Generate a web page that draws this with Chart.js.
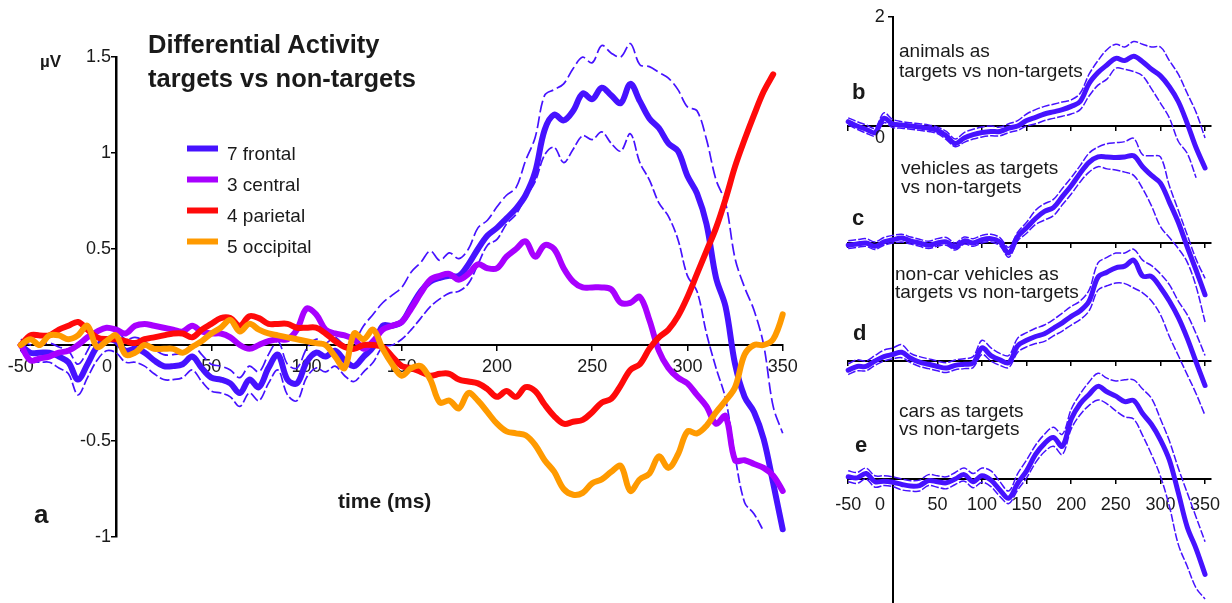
<!DOCTYPE html>
<html>
<head>
<meta charset="utf-8">
<script src="https://cdn.jsdelivr.net/npm/chart.js@4/dist/chart.umd.min.js"></script>
<style>
  html,body{margin:0;padding:0;background:#fff;}
  body{width:1232px;height:603px;overflow:hidden;position:relative;font-family:"Liberation Sans",Arial,sans-serif;}
  canvas{position:absolute;top:0;}
  .t{position:absolute;line-height:1;white-space:nowrap;color:#1a1a1a;}
  .b{font-weight:bold;}
</style>
</head>
<body>
<canvas id="main" width="820" height="603" style="left:0px"></canvas>
<canvas id="side" width="412" height="603" style="left:820px"></canvas>

<div class="t b" style="left:148px;top:31.5px;font-size:25.5px">Differential Activity</div>
<div class="t b" style="left:148px;top:65.5px;font-size:25.5px">targets vs non-targets</div>
<div class="t b" style="left:40px;top:53.3px;font-size:17px">µV</div>
<div class="t b" style="left:34px;top:500.5px;font-size:26px">a</div>
<div class="t b" style="left:338px;top:490px;font-size:21px">time (ms)</div>

<div class="t b" style="left:852px;top:81.4px;font-size:22px">b</div>
<div class="t" style="left:899px;top:40.9px;font-size:19px">animals as</div>
<div class="t" style="left:899px;top:60.9px;font-size:19px">targets vs non-targets</div>

<div class="t b" style="left:852px;top:207.4px;font-size:22px">c</div>
<div class="t" style="left:901px;top:158.2px;font-size:19px">vehicles as targets</div>
<div class="t" style="left:901px;top:177.2px;font-size:19px">vs non-targets</div>

<div class="t b" style="left:853px;top:322px;font-size:22px">d</div>
<div class="t" style="left:895px;top:263.9px;font-size:19px">non-car vehicles as</div>
<div class="t" style="left:895px;top:282.2px;font-size:19px">targets vs non-targets</div>

<div class="t b" style="left:855px;top:434.4px;font-size:22px">e</div>
<div class="t" style="left:899px;top:400.6px;font-size:19px">cars as targets</div>
<div class="t" style="left:899px;top:418.9px;font-size:19px">vs non-targets</div>

<script>
// ---------------- DATA ----------------
// Panel a: time axis (ms)
const TIME_A = [-50,-45,-40,-35,-30,-25,-20,-15,-10,-5,0,5,10,15,20,25,30,35,40,45,50,55,60,65,70,75,80,85,90,95,100,105,110,115,120,125,130,135,140,145,150,155,160,165,170,175,180,185,190,195,200,205,210,215,220,225,230,235,240,245,250,255,260,265,270,275,280,285,290,295,300,305,310,315,320,325,330,335,340,345,350,355];
const X_TICKS_A = [-50,0,50,100,150,200,250,300,350];
const Y_TICKS_A = [-1,-0.5,0,0.5,1,1.5];

const FRONTAL = [0.00,-0.04,-0.04,-0.04,-0.06,-0.09,-0.18,-0.10,-0.01,0.03,
  0.02,-0.03,-0.02,-0.04,-0.08,-0.11,-0.11,-0.10,-0.06,-0.12,
  -0.17,-0.18,-0.20,-0.25,-0.18,-0.22,-0.12,-0.05,-0.18,-0.20,
  -0.09,-0.04,-0.06,-0.03,-0.08,-0.11,-0.06,-0.01,0.10,0.10,
  0.12,0.20,0.28,0.33,0.35,0.36,0.36,0.42,0.50,0.57,
  0.61,0.66,0.71,0.78,0.90,1.12,1.20,1.17,1.22,1.31,
  1.28,1.34,1.30,1.26,1.36,1.27,1.18,1.13,1.05,1.01,
  0.88,0.79,0.63,0.35,0.20,-0.10,-0.27,-0.35,-0.49,-0.72,
  -0.96,null];
const FRONTAL_UP = [0.03,0.00,0.00,0.01,-0.01,-0.03,-0.10,-0.03,0.07,0.09,
  0.08,0.03,0.04,0.02,-0.02,-0.05,-0.05,-0.04,0.00,-0.05,
  -0.10,-0.11,-0.13,-0.17,-0.11,-0.14,-0.05,0.02,-0.10,-0.12,
  -0.02,0.03,0.01,0.04,0.00,0.02,0.10,0.16,0.22,0.26,
  0.30,0.38,0.43,0.49,0.44,0.48,0.45,0.50,0.61,0.65,
  0.72,0.78,0.82,0.96,1.08,1.30,1.33,1.36,1.44,1.50,
  1.47,1.56,1.52,1.50,1.57,1.46,1.45,1.42,1.39,1.33,
  1.24,1.22,1.07,0.86,0.74,0.45,0.30,0.18,0.00,-0.32,
  -0.46,null];
const FRONTAL_LO = [-0.03,-0.08,-0.09,-0.09,-0.12,-0.15,-0.26,-0.17,-0.08,-0.03,
  -0.04,-0.09,-0.09,-0.11,-0.15,-0.18,-0.18,-0.17,-0.13,-0.19,
  -0.24,-0.25,-0.27,-0.32,-0.25,-0.29,-0.20,-0.13,-0.26,-0.29,
  -0.17,-0.12,-0.14,-0.11,-0.16,-0.19,-0.14,-0.09,-0.01,0.00,
  0.03,0.08,0.14,0.20,0.24,0.27,0.28,0.32,0.42,0.52,
  0.55,0.63,0.68,0.77,0.85,0.99,1.03,0.95,1.02,1.09,
  1.07,1.11,1.05,1.01,1.10,0.95,0.86,0.74,0.67,0.55,
  0.36,0.28,0.06,-0.12,-0.28,-0.58,-0.82,-0.88,-0.97,null,
  null,null];
const CENTRAL = [0.00,-0.08,-0.07,-0.06,-0.04,-0.03,0.00,0.04,0.07,0.09,
  0.08,0.06,0.10,0.11,0.10,0.09,0.08,0.07,0.10,0.07,
  0.06,0.06,0.04,0.00,-0.02,0.00,0.02,0.03,0.03,0.08,
  0.19,0.16,0.08,0.06,0.05,0.03,-0.02,0.02,0.08,0.10,
  0.12,0.19,0.27,0.34,0.36,0.37,0.34,0.37,0.42,0.40,
  0.40,0.46,0.50,0.54,0.46,0.52,0.50,0.40,0.33,0.30,
  0.30,0.30,0.29,0.22,0.22,0.25,0.13,-0.03,-0.12,-0.17,
  -0.20,-0.26,-0.32,-0.41,-0.37,-0.60,-0.60,-0.62,-0.64,-0.68,
  -0.76,-0.85];
const PARIETAL = [0.00,0.05,0.05,0.05,0.08,0.10,0.12,0.08,0.04,0.03,
  0.03,0.02,0.01,0.03,0.04,0.05,0.06,0.06,0.04,0.08,
  0.11,0.14,0.14,0.10,0.15,0.14,0.11,0.11,0.11,0.09,
  0.09,0.09,0.06,0.02,-0.01,-0.02,0.00,0.00,-0.01,-0.06,
  -0.11,-0.12,-0.14,-0.16,-0.15,-0.15,-0.18,-0.19,-0.20,-0.23,
  -0.27,-0.24,-0.27,-0.22,-0.24,-0.31,-0.37,-0.41,-0.40,-0.39,
  -0.35,-0.30,-0.28,-0.21,-0.13,-0.10,-0.02,0.04,0.08,0.15,
  0.25,0.37,0.49,0.61,0.76,0.93,1.07,1.20,1.32,1.41,
  null,null];
const OCCIPITAL = [0.00,0.03,0.00,0.05,0.05,0.03,0.05,0.10,-0.01,0.02,
  0.05,-0.05,-0.04,0.00,-0.02,-0.02,-0.02,-0.04,-0.01,0.02,
  0.06,0.09,0.13,0.07,0.11,0.08,0.06,0.05,0.04,0.03,
  0.02,0.01,0.00,-0.06,-0.12,0.06,0.03,0.08,-0.02,-0.10,
  -0.16,-0.12,-0.11,-0.18,-0.30,-0.29,-0.33,-0.25,-0.29,-0.35,
  -0.41,-0.45,-0.46,-0.47,-0.52,-0.60,-0.66,-0.75,-0.78,-0.77,
  -0.72,-0.70,-0.66,-0.63,-0.76,-0.70,-0.67,-0.58,-0.64,-0.57,
  -0.45,-0.46,-0.42,-0.35,-0.29,-0.22,-0.05,0.00,0.00,0.03,
  0.16,0.38];

// Panels b-e: time axis (ms)
const TIME_P = [-50,-40,-30,-20,-10,0,10,20,30,40,50,60,70,80,90,100,110,120,130,140,150,160,170,180,190,200,210,220,230,240,250,260,270,280,290,300,310,320,330,340,350];
const X_TICKS_P = [-50,0,50,100,150,200,250,300,350];
const Y_TICKS_P = [0,2];

const B_MEAN = [0.08,0.00,-0.06,-0.12,0.14,0.04,0.02,0.00,-0.02,-0.04, -0.08,-0.18,-0.32,-0.22,-0.16,-0.12,-0.10,-0.10,-0.04,0.00, 0.10,0.16,0.22,0.26,0.30,0.36,0.45,0.78,0.98,1.12, 1.24,1.20,1.28,1.18,1.04,0.92,0.72,0.45,0.05,-0.40, -0.77];
const B_UP   = [0.15,0.08,0.02,-0.04,0.24,0.12,0.08,0.06,0.04,0.02, -0.02,-0.10,-0.24,-0.12,-0.06,-0.02,0.00,-0.02,0.04,0.10, 0.22,0.30,0.36,0.40,0.44,0.48,0.60,0.95,1.20,1.40, 1.50,1.45,1.55,1.50,1.45,1.45,1.20,0.95,0.60,0.25, -0.22];
const B_LO   = [0.02,-0.06,-0.13,-0.18,0.06,-0.03,-0.04,-0.06,-0.08,-0.10, -0.14,-0.25,-0.38,-0.30,-0.24,-0.20,-0.18,-0.18,-0.12,-0.08, 0.00,0.04,0.10,0.14,0.18,0.22,0.30,0.55,0.75,0.86, 1.06,1.04,1.00,0.92,0.68,0.42,0.15,-0.28,-0.50,-0.95, null];

const C_MEAN = [-0.04,-0.02,0.00,-0.06,0.02,0.06,0.09,0.04,0.00,-0.04, 0.00,0.02,-0.07,0.04,0.00,0.06,0.08,0.02,-0.18,0.12, 0.28,0.45,0.58,0.65,0.85,1.05,1.28,1.48,1.58,1.58, 1.57,1.58,1.60,1.40,1.24,1.10,0.75,0.38,-0.07,-0.50, -0.95];
const C_UP   = [0.04,0.06,0.08,0.02,0.10,0.14,0.16,0.11,0.07,0.03, 0.08,0.10,0.00,0.11,0.08,0.14,0.16,0.10,-0.08,0.20, 0.38,0.60,0.72,0.80,1.00,1.20,1.42,1.65,1.76,1.82, 1.84,1.86,1.92,1.62,1.60,1.58,1.05,0.60,0.15,-0.30, -0.65];
const C_LO   = [-0.10,-0.08,-0.06,-0.12,-0.04,0.00,0.02,-0.02,-0.06,-0.10, -0.06,-0.04,-0.13,-0.02,-0.06,0.00,0.02,-0.05,-0.26,0.04, 0.18,0.34,0.42,0.50,0.70,0.90,1.12,1.30,1.40,1.36, 1.34,1.30,1.24,1.00,0.68,0.30,0.10,-0.10,-0.35,-0.80, -1.45];

const D_MEAN = [-0.17,-0.10,-0.10,0.00,0.08,0.12,0.16,0.05,-0.02,-0.06, -0.10,-0.13,-0.08,-0.06,-0.04,0.24,0.10,0.02,-0.03,0.28, 0.38,0.45,0.50,0.60,0.70,0.82,0.92,1.10,1.54,1.63, 1.71,1.74,1.85,1.56,1.55,1.35,1.10,0.80,0.42,-0.02, -0.45];
const D_UP   = [-0.05,0.02,0.00,0.10,0.20,0.24,0.30,0.14,0.08,0.04, 0.00,-0.03,0.02,0.04,0.08,0.38,0.24,0.14,0.10,0.42, 0.52,0.60,0.66,0.76,0.88,1.00,1.10,1.30,1.80,1.90, 1.98,1.98,2.05,1.85,1.75,1.60,1.40,1.10,0.85,0.50, 0.10];
const D_LO   = [-0.25,-0.18,-0.18,-0.08,0.00,0.04,0.06,-0.03,-0.10,-0.14, -0.18,-0.21,-0.16,-0.14,-0.12,0.12,0.00,-0.08,-0.12,0.16, 0.26,0.32,0.36,0.46,0.55,0.66,0.76,0.92,1.30,1.38, 1.43,1.42,1.34,1.25,1.10,0.85,0.45,0.10,-0.25,-0.60, -1.00];

const E_MEAN = [0.04,0.02,0.10,-0.05,-0.04,-0.06,-0.10,-0.13,-0.12,-0.03, -0.05,-0.07,0.00,0.08,-0.05,0.06,-0.02,-0.20,-0.35,-0.08, 0.15,0.45,0.65,0.76,0.60,1.10,1.38,1.55,1.70,1.60, 1.52,1.42,1.44,1.20,1.00,0.72,0.35,-0.25,-0.88,-1.28, -1.75];
const E_UP   = [0.15,0.12,0.20,0.06,0.06,0.04,0.00,-0.03,-0.02,0.08, 0.06,0.04,0.12,0.20,0.10,0.20,0.15,-0.05,-0.22,0.10, 0.35,0.62,0.82,0.95,0.82,1.28,1.56,1.78,1.94,1.85, 1.80,1.82,1.82,1.65,1.48,1.10,0.70,0.20,-0.25,-0.70, -1.15];
const E_LO   = [-0.05,-0.08,0.00,-0.15,-0.12,-0.14,-0.20,-0.22,-0.22,-0.12, -0.15,-0.18,-0.10,-0.04,-0.16,-0.06,-0.14,-0.32,-0.45,-0.20, 0.02,0.30,0.50,0.60,0.45,0.92,1.18,1.35,1.45,1.38, 1.25,1.14,1.10,0.80,0.45,0.05,-0.50,-1.20,-1.60,-2.00, -2.20];

// ---------------- STYLE / LAYOUT ----------------
const FONT = '"Liberation Sans", Arial, sans-serif';
const TXT = '#1a1a1a';
const COL = {frontal:'#4612ff', central:'#a800ff', parietal:'#ff0a0a', occipital:'#ff9a00'};
Chart.defaults.font.family = FONT;
Chart.defaults.color = TXT;

function pts(times, vals){ return times.map((t,i)=>({x:t, y:vals[i]})); }

const legendPlugin = {
  id:'customLegend',
  afterDatasetsDraw(chart, args, opts){
    const ctx = chart.ctx;
    const items = chart.data.datasets.filter(d=>d.inLegend);
    ctx.save();
    ctx.font = '19px ' + FONT;
    ctx.textBaseline = 'alphabetic';
    ctx.textAlign = 'left';
    items.forEach((d,i)=>{
      const y = opts.y + i*opts.dy;
      ctx.strokeStyle = d.borderColor; ctx.lineWidth = 6; ctx.lineCap = 'butt';
      ctx.beginPath(); ctx.moveTo(opts.x, y); ctx.lineTo(opts.x + 31, y); ctx.stroke();
      ctx.fillStyle = TXT;
      ctx.fillText(d.label, opts.x + 40, y + 11);
    });
    ctx.restore();
  }
};

// tick labels of axes that sit inside the plot (y axes crossing x = 0, and the "0" labels)
const axisLabels = {
  id:'axisLabels',
  afterDraw(chart, args, opts){
    const ctx = chart.ctx;
    ctx.save();
    ctx.font = '18px ' + FONT; ctx.fillStyle = TXT;
    ctx.textBaseline = 'middle';
    (opts.yItems||[]).forEach(it=>{
      const xs = chart.scales[it.xScale], ys = chart.scales[it.yScale];
      const x0 = xs.getPixelForValue(0) - it.gap;
      ctx.textAlign = 'right';
      it.values.forEach(v=>{ ctx.fillText(String(v), x0, ys.getPixelForValue(v)); });
    });
    (opts.zeroItems||[]).forEach(it=>{
      const xs = chart.scales[it.xScale], ys = chart.scales[it.yScale];
      ctx.textAlign = 'center';
      ctx.fillText('0', xs.getPixelForValue(0) + it.dx, ys.getPixelForValue(0) + it.dy);
    });
    ctx.restore();
  }
};

function line(label, data, color, width, extra){
  return Object.assign({label, data, borderColor:color, backgroundColor:color, borderWidth:width,
    pointRadius:0, fill:false, tension:0.35, clip:false, spanGaps:false,
    borderCapStyle:'round', borderJoinStyle:'round'}, extra||{});
}

// ---------------- PANEL a ----------------
new Chart(document.getElementById('main'), {
  type:'line',
  data:{datasets:[
    line('frontal upper', pts(TIME_A, FRONTAL_UP), COL.frontal, 1.7, {borderDash:[12,4], borderCapStyle:'butt', order:6}),
    line('frontal lower', pts(TIME_A, FRONTAL_LO), COL.frontal, 1.7, {borderDash:[10,3], borderCapStyle:'butt', order:6}),
    line('7 frontal',  pts(TIME_A, FRONTAL),  COL.frontal,  6, {order:4, inLegend:true}),
    line('3 central',  pts(TIME_A, CENTRAL),  COL.central,  6, {order:3, inLegend:true}),
    line('4 parietal', pts(TIME_A, PARIETAL), COL.parietal, 6, {order:2, inLegend:true}),
    line('5 occipital',pts(TIME_A, OCCIPITAL),COL.occipital,6, {order:1, inLegend:true})
  ]},
  options:{
    responsive:false, animation:false, devicePixelRatio:1,
    layout:{padding:{left:20.8, right:37.3, top:57, bottom:66}},
    plugins:{legend:{display:false}, tooltip:{enabled:false},
      customLegend:{x:187, y:148.5, dy:31},
      axisLabels:{
        yItems:[{xScale:'x', yScale:'y', gap:5, values:Y_TICKS_A.filter(v=>v!==0)}],
        zeroItems:[{xScale:'x', yScale:'y', dx:-9, dy:22}]}},
    scales:{
      x:{type:'linear', axis:'x', min:-50, max:350, position:{y:0},
        afterBuildTicks:s=>{ s.ticks = X_TICKS_A.map(v=>({value:v})); },
        ticks:{callback:v=> v===0 ? '' : String(v), font:{size:18}, color:TXT, padding:6, maxRotation:0, autoSkip:false},
        grid:{drawOnChartArea:false, drawTicks:true, tickLength:5, color:'#000', lineWidth:1.5},
        border:{display:true, color:'#000', width:2}},
      y:{type:'linear', axis:'y', min:-1, max:1.5, position:{x:0},
        afterBuildTicks:s=>{ s.ticks = Y_TICKS_A.map(v=>({value:v})); },
        ticks:{display:false},
        grid:{drawOnChartArea:false, drawTicks:true, tickLength:4, color:'#000', lineWidth:1.5},
        border:{display:true, color:'#000', width:2.5}}
    }
  },
  plugins:[legendPlugin, axisLabels]
});

// ---------------- PANELS b-e ----------------
const PANELS = [
  {k:'B', mean:B_MEAN, up:B_UP, lo:B_LO},
  {k:'C', mean:C_MEAN, up:C_UP, lo:C_LO},
  {k:'D', mean:D_MEAN, up:D_UP, lo:D_LO},
  {k:'E', mean:E_MEAN, up:E_UP, lo:E_LO}
];
const PANEL_ZERO_PX = [126, 243, 361, 479];   // pixel rows of each panel's zero line
const AREA_TOP = 17, AREA_BOTTOM = 603, PX_PER_UV = 54.5;

const sideSets = [];
const sideScales = {};
PANELS.forEach((p,i)=>{
  const z = PANEL_ZERO_PX[i];
  sideSets.push(line(p.k+' upper', pts(TIME_P, p.up), COL.frontal, 1.5, {xAxisID:'x'+p.k, yAxisID:'y'+p.k, borderDash:[8,2], borderCapStyle:'butt', order:2}));
  sideSets.push(line(p.k+' lower', pts(TIME_P, p.lo), COL.frontal, 1.5, {xAxisID:'x'+p.k, yAxisID:'y'+p.k, borderDash:[8,2], borderCapStyle:'butt', order:2}));
  sideSets.push(line(p.k+' mean',  pts(TIME_P, p.mean), COL.frontal, 5, {xAxisID:'x'+p.k, yAxisID:'y'+p.k, order:1}));
  sideScales['y'+p.k] = {
    type:'linear', axis:'y', display: p.k==='B',
    min: -(AREA_BOTTOM - z)/PX_PER_UV, max: (z - AREA_TOP)/PX_PER_UV,
    position: p.k==='B' ? {xB:0} : 'left',
    afterBuildTicks:s=>{ s.ticks = Y_TICKS_P.map(v=>({value:v})); },
    ticks:{display:false},
    grid:{drawOnChartArea:false, drawTicks:true, tickLength:4, color:'#000', lineWidth:1.5},
    border:{display:true, color:'#000', width:2}
  };
  sideScales['x'+p.k] = {
    type:'linear', axis:'x', min:-50, max:356,
    position: {['y'+p.k]:0},
    afterBuildTicks:s=>{ s.ticks = X_TICKS_P.map(v=>({value:v})); },
    ticks:{display: p.k==='E', callback:v=> v===0 ? '' : String(v), font:{size:18}, color:TXT, padding:11, maxRotation:0, autoSkip:false},
    grid:{drawOnChartArea:false, drawTicks:true, tickLength:4, color:'#000', lineWidth:1.5},
    border:{display:true, color:'#000', width:2}
  };
});

new Chart(document.getElementById('side'), {
  type:'line',
  data:{datasets:sideSets},
  options:{
    responsive:false, animation:false, devicePixelRatio:1,
    layout:{padding:{left:28.2, right:21.6, top:AREA_TOP, bottom:0}},
    plugins:{legend:{display:false}, tooltip:{enabled:false},
      axisLabels:{
        yItems:[{xScale:'xB', yScale:'yB', gap:8, values:Y_TICKS_P.filter(v=>v!==0)}],
        zeroItems:[{xScale:'xB', yScale:'yB', dx:-12.8, dy:12}, {xScale:'xE', yScale:'yE', dx:-12.8, dy:26}]}},
    scales:sideScales
  },
  plugins:[axisLabels]
});
</script>
</body>
</html>
